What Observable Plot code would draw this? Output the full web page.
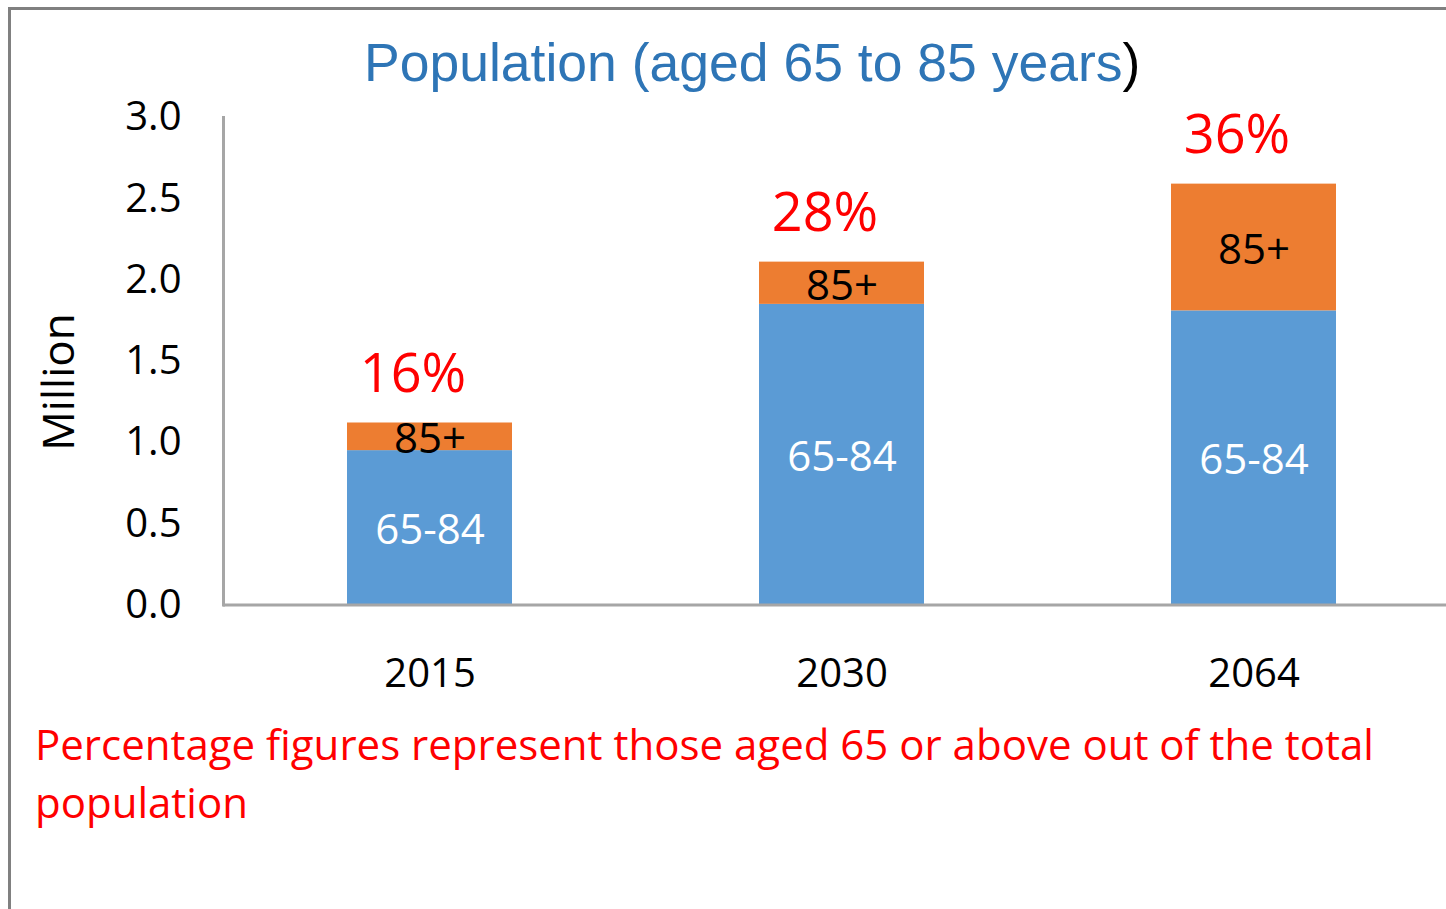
<!DOCTYPE html>
<html><head><meta charset="utf-8">
<script src="https://cdn.jsdelivr.net/npm/d3@7"></script>
<script src="https://cdn.jsdelivr.net/npm/@observablehq/plot@0.6"></script>
<style>
html,body{margin:0;padding:0;background:#fff;}
#wrap{position:relative;width:1446px;height:909px;overflow:hidden;background:#fff;}
#border{position:absolute;left:8px;top:7px;right:-10px;bottom:-10px;border-top:3px solid #808080;border-left:3px solid #808080;}
#title{position:absolute;left:364px;top:36px;font-family:"Liberation Sans",Arial,sans-serif;font-size:53.5px;line-height:54px;color:#2E75B6;white-space:nowrap;}
#title span{color:#000;}
#ylabel{position:absolute;left:57px;top:382px;transform:translate(-50%,-50%) rotate(-90deg);font-family:"Open Sans",sans-serif;font-size:44px;line-height:44px;white-space:nowrap;color:#000;}
#chart{position:absolute;left:0;top:100px;}
#caption{position:absolute;left:35px;top:715px;width:1400px;font-family:"Open Sans",sans-serif;font-size:42px;line-height:58px;color:#ff0000;}
</style></head><body>
<div id="wrap">
 <div id="border"></div>
 <div id="title">Population (aged 65 to 85 years<span>)</span></div>
 <div id="ylabel">Million</div>
 <div id="chart"></div>
 <div id="caption">Percentage figures represent those aged 65 or above out of the total population</div>
</div>
<script>
const years = ["2015", "2030", "2064"];
const aged65to84 = [0.95, 1.85, 1.81];
const aged85plus = [0.17, 0.26, 0.78];
const pctLabels = ["16%", "28%", "36%"];
const seriesNames = ["65-84", "85+"];
const seriesColors = ["#5B9BD5", "#ED7D31"];
const yTicks = [0, 0.5, 1, 1.5, 2, 2.5, 3];

const rows = [];
years.forEach((y, i) => {
  rows.push({year: y, series: seriesNames[0], value: aged65to84[i]});
  rows.push({year: y, series: seriesNames[1], value: aged85plus[i]});
});
const labelsLow = years.map((y, i) => ({year: y, mid: aged65to84[i] / 2, label: seriesNames[0]}));
const labelsHigh = years.map((y, i) => ({year: y, mid: aged65to84[i] + aged85plus[i] / 2, label: seriesNames[1]}));
const totals = years.map((y, i) => ({year: y, total: aged65to84[i] + aged85plus[i], label: pctLabels[i]}));

const chart = Plot.plot({
  width: 1446,
  height: 610,
  marginTop: 17,
  marginBottom: 105.5,
  marginLeft: 223,
  marginRight: 0,
  style: {fontFamily: "Open Sans, sans-serif", fontSize: "40px", color: "#000", background: "transparent", overflow: "visible"},
  x: {domain: years, range: [223, 1459], paddingInner: 0.6, paddingOuter: 0.3, label: null, tickSize: 0, tickPadding: 54},
  y: {domain: [0, 3], ticks: yTicks, tickFormat: d3.format(".1f"), label: null, tickSize: 0, tickPadding: 42},
  color: {domain: seriesNames, range: seriesColors},
  marks: [
    Plot.barY(rows, Plot.stackY({x: "year", y: "value", fill: "series"})),
    Plot.text(labelsLow, {x: "year", y: "mid", text: "label", fill: "#ffffff", fontSize: 42, dy: 3}),
    Plot.text(labelsHigh, {x: "year", y: "mid", text: "label", fill: "#000000", fontSize: 42, dy: 3}),
    Plot.text(totals, {x: "year", y: "total", text: "label", fill: "#ff0000", fontSize: 54, dy: -48, dx: -17}),
    Plot.frame({anchor: "left", stroke: "#A6A6A6", strokeWidth: 3}),
    Plot.ruleY([0], {stroke: "#A6A6A6", strokeWidth: 3})
  ]
});
document.getElementById("chart").appendChild(chart);
</script>
</body></html>
